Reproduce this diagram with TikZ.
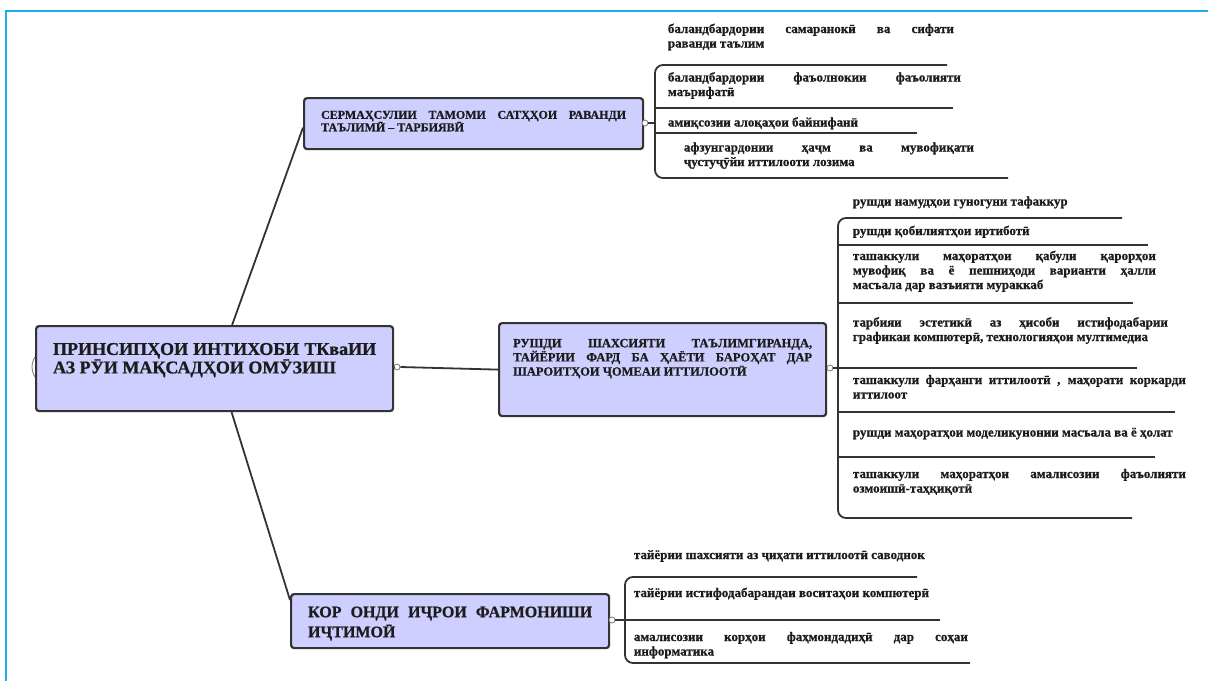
\documentclass[tikz,border=0pt]{standalone}
\usepackage{fontspec}
\setmainfont{Liberation Serif}[BoldFeatures={FakeBold=0.8}]
\definecolor{boxfill}{RGB}{206,206,255}
\definecolor{ink}{RGB}{28,28,28}
\definecolor{frameblue}{RGB}{30,170,235}
\hyphenpenalty=10000
\exhyphenpenalty=10000
\begin{document}
\begin{tikzpicture}[x=1pt, y=-1pt, line width=1.8pt,
        box/.style = {draw=ink!90, fill=boxfill, line width=2.2pt, rounded corners=3pt, anchor=north west, align=justify, inner ysep=4pt, text=ink},
        leaf/.style = {anchor=base west, align=justify, inner sep=0pt, text=ink, font=\fontsize{13}{14.5}\selectfont\bfseries},
        knob/.style = {draw=ink!60, fill=white, circle, inner sep=0pt, minimum size=6pt, line width=0.8pt},
        link/.style = {draw=ink!90, line width=1.8pt}]
        \useasboundingbox (0,0) rectangle (1208,681);
        \draw[frameblue, line width=2.5pt] (6,681) -- (6,11) -- (1208,11);

        % main topic and its three branches
        \node[knob, minimum size=36pt] (hl) at (50,367) {};
        \node[box, text width=323pt, inner xsep=17pt, minimum height=85pt, font=\fontsize{18}{18.5}\selectfont\bfseries] (root) at (35,325) {ПРИНСИПҲОИ ИНТИХОБИ ТКваИИ\linebreak АЗ РӮИ МАҚСАДҲОИ ОМӮЗИШ\par\vspace*{17pt}};
        \node[box, text width=305pt, inner xsep=17pt, minimum height=51pt, font=\fontsize{12}{12.5}\selectfont\bfseries] (a) at (303,97) {СЕРМАҲСУЛИИ ТАМОМИ САТҲҲОИ РАВАНДИ\linebreak ТАЪЛИМӢ – ТАРБИЯВӢ\par\vspace*{5pt}};
        \node[box, text width=299pt, inner xsep=14pt, minimum height=93pt, font=\fontsize{12.5}{14.2}\selectfont\bfseries] (b) at (498,322) {РУШДИ ШАХСИЯТИ ТАЪЛИМГИРАНДА,\linebreak ТАЙЁРИИ ФАРД БА ҲАЁТИ БАРОҲАТ ДАР\linebreak ШАРОИТҲОИ ҶОМЕАИ ИТТИЛООТӢ\par\vspace*{22pt}};
        \node[box, text width=284pt, inner xsep=17pt, minimum height=54pt, font=\fontsize{16}{20}\selectfont\bfseries] (c) at (290,593) {КОР ОНДИ ИҶРОИ ФАРМОНИШИ\linebreak ИҶТИМОӢ\par\vspace*{-5pt}};

        \node[knob] (hr) at (397,367) {};
        \node[knob] (ha) at (645,123) {};
        \node[knob] (hb) at (830,368) {};
        \node[knob] (hc) at (612,620) {};

        \draw[link] ([xshift=17.5pt]root.north) -- ([yshift=-4pt]a.west);
        \draw[link] ([xshift=17pt]root.south) -- ([yshift=-7pt]c.north west);
        \draw[link] (root.east) -- (hr.west);
        \draw[link] (hr.east) -- (b.west);

        % first branch
        \coordinate (ka) at (655,123);
        \coordinate (a1) at (947,65);
        \coordinate (a2s) at (655,108);
        \coordinate (a2) at (953,108);
        \coordinate (a3s) at (655,133);
        \coordinate (a3) at (917,133);
        \coordinate (a4) at (1008,178);
        \draw[link] (ha.east) -- (ka);
        \draw[link, rounded corners=8pt] (ka) |- (a1);
        \draw[link, rounded corners=8pt] (ka) |- (a4);
        \draw[link] (a2s) -- (a2);
        \draw[link] (a3s) -- (a3);
        \node[leaf, text width=286pt] (a1t) at (667,33) {баландбардории самаранокӣ ва сифати\linebreak раванди таълим};
        \node[leaf, text width=293pt] (a2t) at (667,81.5) {баландбардории фаъолнокии фаъолияти\linebreak маърифатӣ};
        \node[leaf] (a3t) at (667,126.5) {амиқсозии алоқаҳои байнифанӣ};
        \node[leaf, text width=290pt] (a4t) at (683,151.5) {афзунгардонии ҳаҷм ва мувофиқати\linebreak ҷустуҷӯйи иттилооти лозима};

        % second branch
        \coordinate (kb) at (838,368);
        \coordinate (b1) at (1122,218);
        \coordinate (b2s) at (838,245);
        \coordinate (b2) at (1148,245);
        \coordinate (b3s) at (838,303);
        \coordinate (b3) at (1133,303);
        \coordinate (b4) at (1137,368);
        \coordinate (b5s) at (838,412);
        \coordinate (b5) at (1175,412);
        \coordinate (b6s) at (838,457);
        \coordinate (b6) at (1155,457);
        \coordinate (b7) at (1132,518);
        \draw[link] (hb.east) -- (b4);
        \draw[link, rounded corners=8pt] (kb) |- (b1);
        \draw[link, rounded corners=8pt] (kb) |- (b7);
        \draw[link] (b2s) -- (b2);
        \draw[link] (b3s) -- (b3);
        \draw[link] (b5s) -- (b5);
        \draw[link] (b6s) -- (b6);
        \node[leaf] (b1t) at (852,205.5) {рушди намудҳои гуногуни тафаккур};
        \node[leaf] (b2t) at (852,235) {рушди қобилиятҳои иртиботӣ};
        \node[leaf, text width=303pt] (b3t) at (852,260) {ташаккули маҳоратҳои қабули қарорҳои\linebreak мувофиқ ва ё пешниҳоди варианти ҳалли\linebreak масъала дар вазъияти мураккаб};
        \node[leaf, text width=315pt] (b4t) at (852,326.5) {тарбияи эстетикӣ аз ҳисоби истифодабарии\linebreak графикаи компютерӣ, технологияҳои мултимедиа};
        \node[leaf, text width=333pt] (b5t) at (852,384) {ташаккули фарҳанги иттилоотӣ , маҳорати коркарди\linebreak иттилоот};
        \node[leaf] (b6t) at (852,436.5) {рушди маҳоратҳои моделикунонии масъала ва ё ҳолат};
        \node[leaf, text width=333pt] (b7t) at (852,478) {ташаккули маҳоратҳои амалисозии фаъолияти\linebreak озмоишӣ-таҳқиқотӣ};

        % third branch
        \coordinate (kc) at (625,620);
        \coordinate (c1) at (917,577);
        \coordinate (c2) at (940,620);
        \coordinate (c3) at (970,663);
        \draw[link] (hc.east) -- (c2);
        \draw[link, rounded corners=8pt] (kc) |- (c1);
        \draw[link, rounded corners=8pt] (kc) |- (c3);
        \node[leaf] (c1t) at (633,559) {тайёрии шахсияти аз ҷиҳати иттилоотӣ саводнок};
        \node[leaf] (c2t) at (633,597) {тайёрии истифодабарандаи воситаҳои компютерӣ};
        \node[leaf, text width=334pt] (c3t) at (633,641) {амалисозии корҳои фаҳмондадиҳӣ дар соҳаи\linebreak информатика};
\end{tikzpicture}
\end{document}
